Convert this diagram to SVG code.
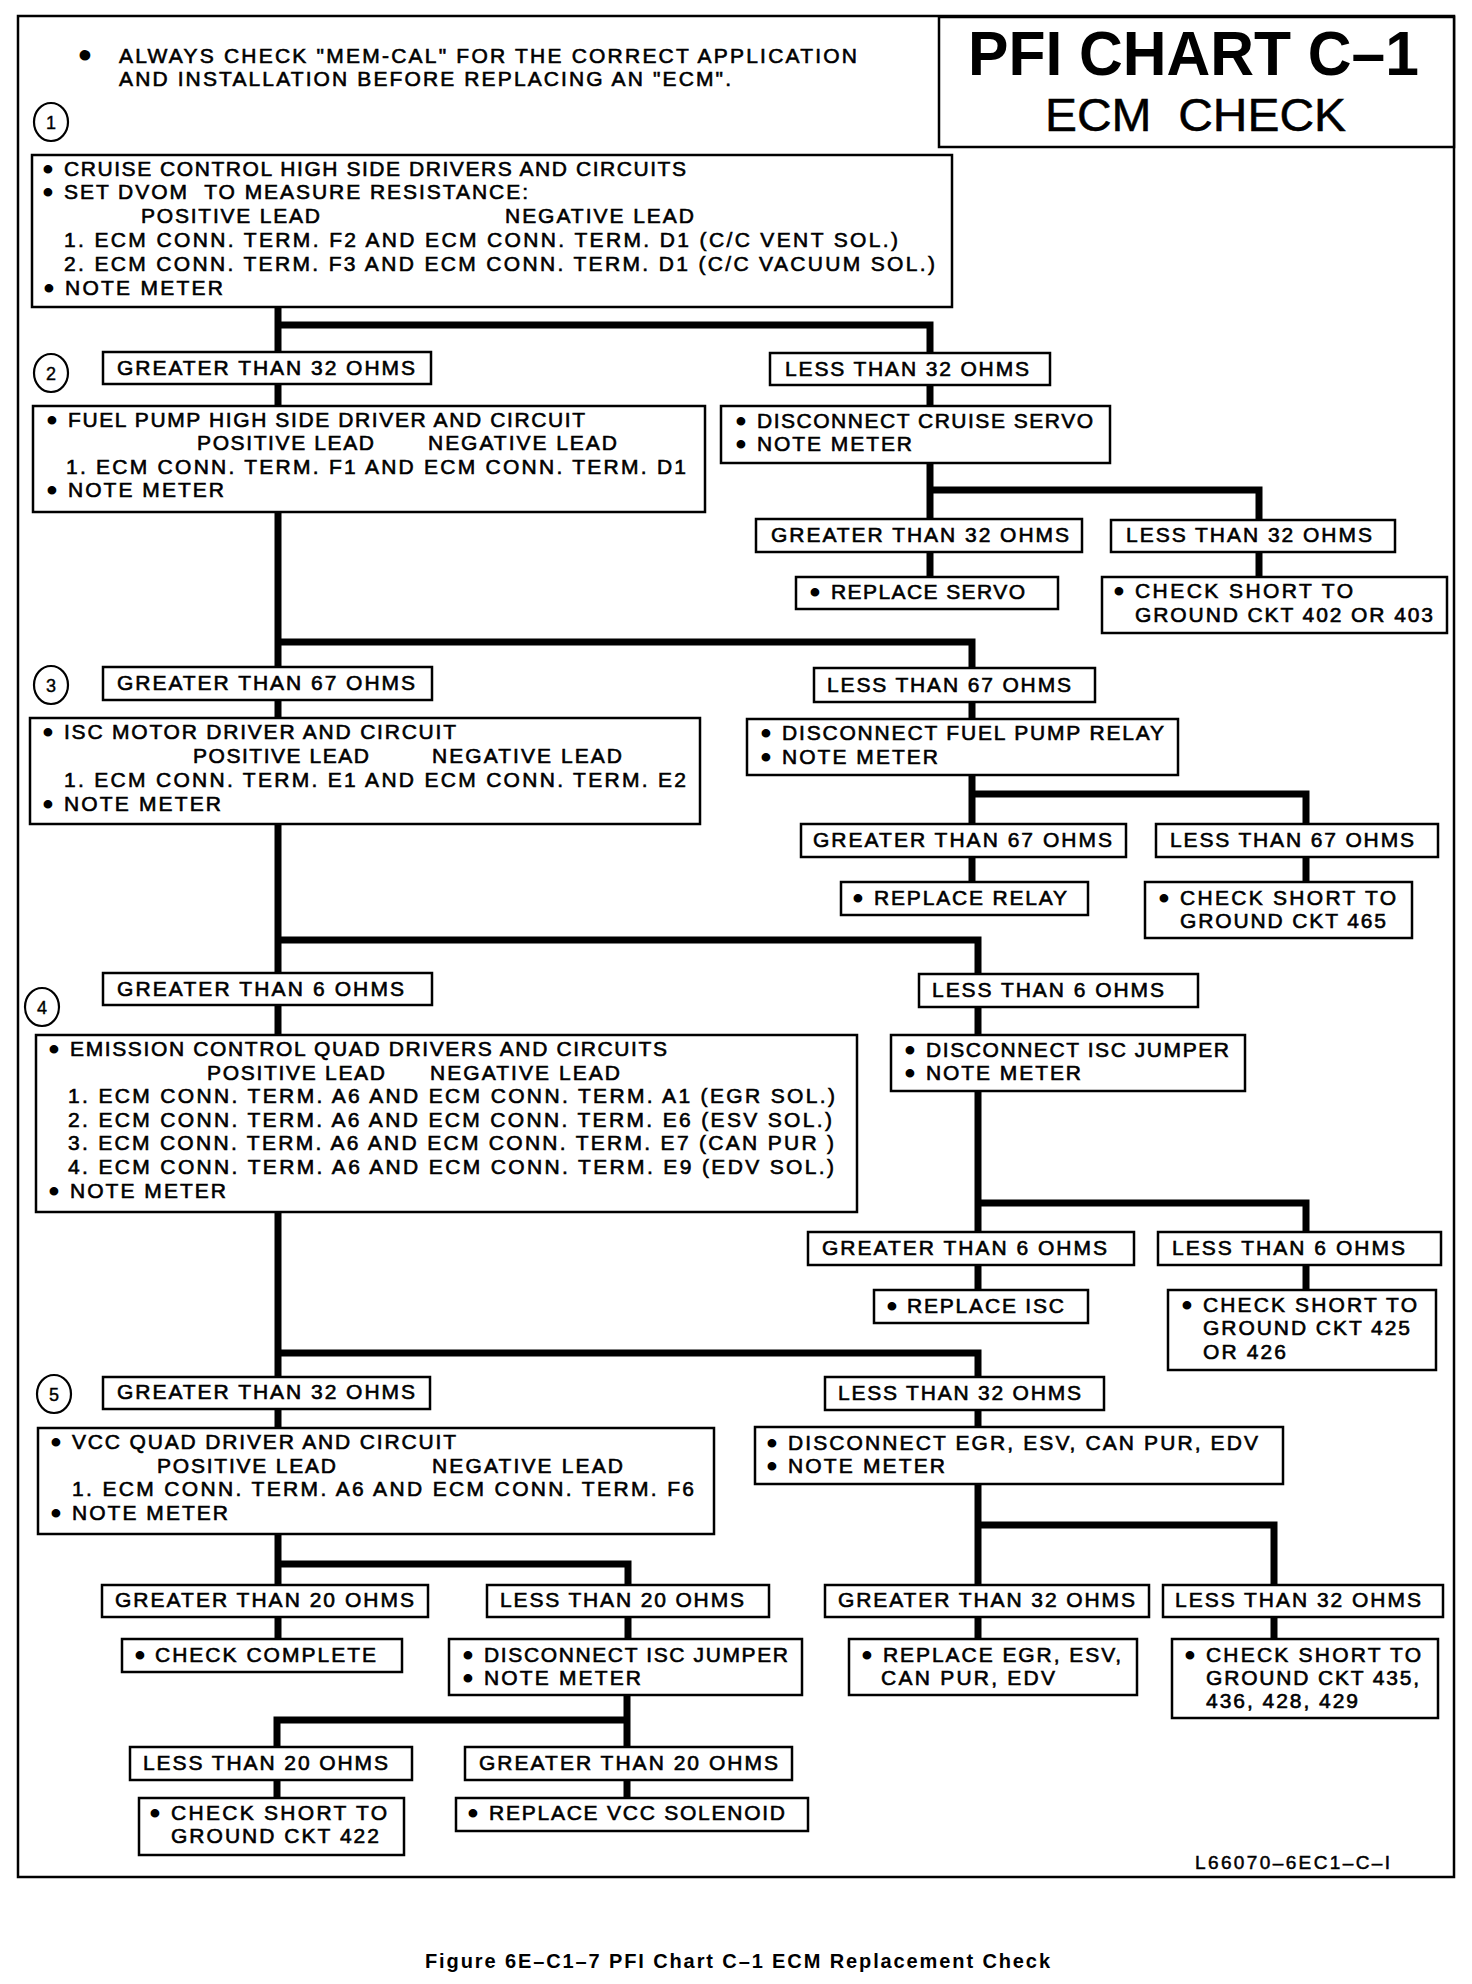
<svg xmlns="http://www.w3.org/2000/svg" width="1472" height="1984" viewBox="0 0 1472 1984">
<defs>
<style>
.box{fill:#fff;stroke:#000;stroke-width:2.5}
.t{font-family:"Liberation Sans",Arial,Helvetica,sans-serif;font-size:21px;fill:#000;stroke:#000;stroke-width:0.6}
.bul{font-family:"Liberation Sans",Arial,Helvetica,sans-serif;font-size:21px;fill:#000;stroke:#000;stroke-width:3;text-anchor:middle}
.num{font-family:"Liberation Sans",Arial,Helvetica,sans-serif;font-size:18px;fill:#000;stroke:#000;stroke-width:0.4;text-anchor:middle}
.ring{fill:#fff;stroke:#000;stroke-width:2.2}
.pre{white-space:pre}
#connectors path{stroke:#000;stroke-width:7;fill:none;stroke-linejoin:miter;stroke-linecap:butt}
</style>
</defs>
<rect x="0" y="0" width="1472" height="1984" fill="#fff"/>
<rect id="frame" x="18" y="16" width="1436" height="1861" fill="none" stroke="#000" stroke-width="2.5"/>

<g id="connectors">
<path d="M278,307 V352"/>
<path d="M278,325 H930 V353"/>
<path d="M278,384 V406"/>
<path d="M930,385 V406"/>
<path d="M930,463 V519"/>
<path d="M930,490 H1259 V520"/>
<path d="M930,552 V577"/>
<path d="M1259,552 V577"/>
<path d="M278,512 V667"/>
<path d="M278,642 H972 V668"/>
<path d="M278,700 V718"/>
<path d="M972,702 V719"/>
<path d="M972,775 V824"/>
<path d="M972,794 H1306 V824"/>
<path d="M972,857 V882"/>
<path d="M1306,857 V882"/>
<path d="M278,824 V973"/>
<path d="M278,940 H978 V974"/>
<path d="M278,1005 V1035"/>
<path d="M978,1007 V1035"/>
<path d="M978,1091 V1232"/>
<path d="M978,1203 H1306 V1232"/>
<path d="M978,1265 V1290"/>
<path d="M1306,1265 V1290"/>
<path d="M278,1212 V1377"/>
<path d="M278,1353 H978 V1377"/>
<path d="M278,1409 V1428"/>
<path d="M978,1410 V1427"/>
<path d="M978,1484 V1585"/>
<path d="M978,1525 H1274 V1585"/>
<path d="M978,1617 V1639"/>
<path d="M1274,1617 V1639"/>
<path d="M278,1534 V1585"/>
<path d="M278,1564 H628 V1585"/>
<path d="M278,1617 V1639"/>
<path d="M628,1617 V1639"/>
<path d="M627,1695 V1747"/>
<path d="M627,1720 H277 V1747"/>
<path d="M277,1780 V1798"/>
<path d="M627,1780 V1798"/>
</g>

<g id="note">
<text class="bul" x="85" y="62" style="stroke-width:5">•</text>
<text class="t" x="119" y="63" textLength="738" lengthAdjust="spacing">ALWAYS CHECK "MEM-CAL" FOR THE CORRECT APPLICATION</text>
<text class="t" x="119" y="86" textLength="612" lengthAdjust="spacing">AND INSTALLATION BEFORE REPLACING AN "ECM".</text>
</g>

<g id="title">
<rect class="box" x="939" y="17" width="515" height="130"/>
<text x="968" y="75" textLength="451" lengthAdjust="spacingAndGlyphs" style="font-family:'Liberation Sans',Arial,Helvetica,sans-serif;font-size:63px;font-weight:bold">PFI CHART C–1</text>
<text class="pre" xml:space="preserve" x="1045" y="131" textLength="301" lengthAdjust="spacingAndGlyphs" style="font-family:'Liberation Sans',Arial,Helvetica,sans-serif;font-size:47px;stroke:#000;stroke-width:0.5">ECM  CHECK</text>
</g>

<g id="step1"><ellipse class="ring" cx="51" cy="122" rx="17" ry="19"/><text class="num" x="51" y="129">1</text></g>
<g id="step2"><ellipse class="ring" cx="51" cy="373" rx="17" ry="19"/><text class="num" x="51" y="380">2</text></g>
<g id="step3"><ellipse class="ring" cx="51" cy="685" rx="17" ry="19"/><text class="num" x="51" y="692">3</text></g>
<g id="step4"><ellipse class="ring" cx="42" cy="1007" rx="17" ry="19"/><text class="num" x="42" y="1014">4</text></g>
<g id="step5"><ellipse class="ring" cx="54" cy="1394" rx="17" ry="19"/><text class="num" x="54" y="1401">5</text></g>

<g id="box1">
<rect class="box" x="32" y="155" width="920" height="152"/>
<text class="bul" x="48" y="176">•</text>
<text class="t" x="64" y="176" textLength="622">CRUISE CONTROL HIGH SIDE DRIVERS AND CIRCUITS</text>
<text class="bul" x="48" y="199">•</text>
<text class="t pre" xml:space="preserve" x="64" y="199" textLength="464">SET DVOM  TO MEASURE RESISTANCE:</text>
<text class="t" x="141" y="223" textLength="179">POSITIVE LEAD</text>
<text class="t" x="505" y="223" textLength="189">NEGATIVE LEAD</text>
<text class="t" x="64" y="247" textLength="834">1. ECM CONN. TERM. F2 AND ECM CONN. TERM. D1 (C/C VENT SOL.)</text>
<text class="t" x="64" y="271" textLength="871">2. ECM CONN. TERM. F3 AND ECM CONN. TERM. D1 (C/C VACUUM SOL.)</text>
<text class="bul" x="49" y="295">•</text>
<text class="t" x="65" y="295" textLength="158">NOTE METER</text>
</g>

<g id="gt32a">
<rect class="box" x="103" y="352" width="328" height="32"/>
<text class="t" x="117" y="375" textLength="298">GREATER THAN 32 OHMS</text>
</g>
<g id="lt32a">
<rect class="box" x="770" y="353" width="280" height="32"/>
<text class="t" x="785" y="376" textLength="244">LESS THAN 32 OHMS</text>
</g>

<g id="box2">
<rect class="box" x="33" y="406" width="672" height="106"/>
<text class="bul" x="52" y="427">•</text>
<text class="t" x="68" y="427" textLength="517">FUEL PUMP HIGH SIDE DRIVER AND CIRCUIT</text>
<text class="t" x="197" y="450" textLength="177">POSITIVE LEAD</text>
<text class="t" x="428" y="450" textLength="189">NEGATIVE LEAD</text>
<text class="t" x="66" y="474" textLength="620">1. ECM CONN. TERM. F1 AND ECM CONN. TERM. D1</text>
<text class="bul" x="52" y="497">•</text>
<text class="t" x="68" y="497" textLength="156">NOTE METER</text>
</g>

<g id="servo">
<rect class="box" x="721" y="406" width="389" height="57"/>
<text class="bul" x="741" y="428">•</text>
<text class="t" x="757" y="428" textLength="336">DISCONNECT CRUISE SERVO</text>
<text class="bul" x="741" y="451">•</text>
<text class="t" x="757" y="451" textLength="155">NOTE METER</text>
</g>

<g id="gt32b">
<rect class="box" x="756" y="519" width="326" height="33"/>
<text class="t" x="771" y="542" textLength="298">GREATER THAN 32 OHMS</text>
</g>
<g id="lt32b">
<rect class="box" x="1111" y="520" width="284" height="32"/>
<text class="t" x="1126" y="542" textLength="246">LESS THAN 32 OHMS</text>
</g>

<g id="replservo">
<rect class="box" x="796" y="577" width="262" height="32"/>
<text class="bul" x="815" y="599">•</text>
<text class="t" x="831" y="599" textLength="194">REPLACE SERVO</text>
</g>

<g id="ck402">
<rect class="box" x="1102" y="577" width="345" height="56"/>
<text class="bul" x="1119" y="598">•</text>
<text class="t" x="1135" y="598" textLength="218">CHECK SHORT TO</text>
<text class="t" x="1135" y="622" textLength="298">GROUND CKT 402 OR 403</text>
</g>

<g id="gt67a">
<rect class="box" x="103" y="667" width="329" height="33"/>
<text class="t" x="117" y="690" textLength="298">GREATER THAN 67 OHMS</text>
</g>
<g id="lt67a">
<rect class="box" x="814" y="668" width="281" height="34"/>
<text class="t" x="827" y="692" textLength="244">LESS THAN 67 OHMS</text>
</g>

<g id="box3">
<rect class="box" x="30" y="718" width="670" height="106"/>
<text class="bul" x="48" y="739">•</text>
<text class="t" x="64" y="739" textLength="392">ISC MOTOR DRIVER AND CIRCUIT</text>
<text class="t" x="193" y="763" textLength="176">POSITIVE LEAD</text>
<text class="t" x="432" y="763" textLength="190">NEGATIVE LEAD</text>
<text class="t" x="64" y="787" textLength="622">1. ECM CONN. TERM. E1 AND ECM CONN. TERM. E2</text>
<text class="bul" x="48" y="811">•</text>
<text class="t" x="64" y="811" textLength="157">NOTE METER</text>
</g>

<g id="relay">
<rect class="box" x="747" y="719" width="431" height="56"/>
<text class="bul" x="766" y="740">•</text>
<text class="t" x="782" y="740" textLength="382">DISCONNECT FUEL PUMP RELAY</text>
<text class="bul" x="766" y="764">•</text>
<text class="t" x="782" y="764" textLength="156">NOTE METER</text>
</g>

<g id="gt67b">
<rect class="box" x="801" y="824" width="325" height="33"/>
<text class="t" x="813" y="847" textLength="299">GREATER THAN 67 OHMS</text>
</g>
<g id="lt67b">
<rect class="box" x="1156" y="824" width="282" height="33"/>
<text class="t" x="1170" y="847" textLength="244">LESS THAN 67 OHMS</text>
</g>

<g id="replrelay">
<rect class="box" x="841" y="882" width="247" height="33"/>
<text class="bul" x="858" y="905">•</text>
<text class="t" x="874" y="905" textLength="193">REPLACE RELAY</text>
</g>

<g id="ck465">
<rect class="box" x="1145" y="882" width="267" height="56"/>
<text class="bul" x="1164" y="905">•</text>
<text class="t" x="1180" y="905" textLength="216">CHECK SHORT TO</text>
<text class="t" x="1180" y="928" textLength="206">GROUND CKT 465</text>
</g>

<g id="gt6a">
<rect class="box" x="103" y="973" width="329" height="32"/>
<text class="t" x="117" y="996" textLength="287">GREATER THAN 6 OHMS</text>
</g>
<g id="lt6a">
<rect class="box" x="919" y="974" width="279" height="33"/>
<text class="t" x="932" y="997" textLength="232">LESS THAN 6 OHMS</text>
</g>

<g id="box4">
<rect class="box" x="36" y="1035" width="821" height="177"/>
<text class="bul" x="54" y="1056">•</text>
<text class="t" x="70" y="1056" textLength="597">EMISSION CONTROL QUAD DRIVERS AND CIRCUITS</text>
<text class="t" x="207" y="1080" textLength="178">POSITIVE LEAD</text>
<text class="t" x="430" y="1080" textLength="190">NEGATIVE LEAD</text>
<text class="t" x="68" y="1103" textLength="767">1. ECM CONN. TERM. A6 AND ECM CONN. TERM. A1 (EGR SOL.)</text>
<text class="t" x="68" y="1127" textLength="764">2. ECM CONN. TERM. A6 AND ECM CONN. TERM. E6 (ESV SOL.)</text>
<text class="t" x="68" y="1150" textLength="766">3. ECM CONN. TERM. A6 AND ECM CONN. TERM. E7 (CAN PUR )</text>
<text class="t" x="68" y="1174" textLength="766">4. ECM CONN. TERM. A6 AND ECM CONN. TERM. E9 (EDV SOL.)</text>
<text class="bul" x="54" y="1198">•</text>
<text class="t" x="70" y="1198" textLength="156">NOTE METER</text>
</g>

<g id="iscjumper1">
<rect class="box" x="891" y="1035" width="354" height="56"/>
<text class="bul" x="910" y="1057">•</text>
<text class="t" x="926" y="1057" textLength="303">DISCONNECT ISC JUMPER</text>
<text class="bul" x="910" y="1080">•</text>
<text class="t" x="926" y="1080" textLength="155">NOTE METER</text>
</g>

<g id="gt6b">
<rect class="box" x="808" y="1232" width="326" height="33"/>
<text class="t" x="822" y="1255" textLength="285">GREATER THAN 6 OHMS</text>
</g>
<g id="lt6b">
<rect class="box" x="1158" y="1232" width="283" height="33"/>
<text class="t" x="1172" y="1255" textLength="233">LESS THAN 6 OHMS</text>
</g>

<g id="replisc">
<rect class="box" x="874" y="1290" width="214" height="33"/>
<text class="bul" x="892" y="1313">•</text>
<text class="t" x="907" y="1313" textLength="157">REPLACE ISC</text>
</g>

<g id="ck425">
<rect class="box" x="1168" y="1290" width="268" height="80"/>
<text class="bul" x="1187" y="1312">•</text>
<text class="t" x="1203" y="1312" textLength="214">CHECK SHORT TO</text>
<text class="t" x="1203" y="1335" textLength="207">GROUND CKT 425</text>
<text class="t" x="1203" y="1359" textLength="83">OR 426</text>
</g>

<g id="gt32c">
<rect class="box" x="103" y="1377" width="327" height="32"/>
<text class="t" x="117" y="1399" textLength="298">GREATER THAN 32 OHMS</text>
</g>
<g id="lt32c">
<rect class="box" x="825" y="1377" width="279" height="33"/>
<text class="t" x="838" y="1400" textLength="243">LESS THAN 32 OHMS</text>
</g>

<g id="box5">
<rect class="box" x="38" y="1428" width="676" height="106"/>
<text class="bul" x="56" y="1449">•</text>
<text class="t" x="72" y="1449" textLength="384">VCC QUAD DRIVER AND CIRCUIT</text>
<text class="t" x="157" y="1473" textLength="179">POSITIVE LEAD</text>
<text class="t" x="432" y="1473" textLength="191">NEGATIVE LEAD</text>
<text class="t" x="72" y="1496" textLength="622">1. ECM CONN. TERM. A6 AND ECM CONN. TERM. F6</text>
<text class="bul" x="56" y="1520">•</text>
<text class="t" x="72" y="1520" textLength="156">NOTE METER</text>
</g>

<g id="egr">
<rect class="box" x="755" y="1427" width="528" height="57"/>
<text class="bul" x="772" y="1450">•</text>
<text class="t" x="788" y="1450" textLength="470">DISCONNECT EGR, ESV, CAN PUR, EDV</text>
<text class="bul" x="772" y="1473">•</text>
<text class="t" x="788" y="1473" textLength="157">NOTE METER</text>
</g>

<g id="gt20a">
<rect class="box" x="102" y="1585" width="326" height="32"/>
<text class="t" x="115" y="1607" textLength="299">GREATER THAN 20 OHMS</text>
</g>
<g id="lt20a">
<rect class="box" x="487" y="1585" width="282" height="32"/>
<text class="t" x="500" y="1607" textLength="244">LESS THAN 20 OHMS</text>
</g>
<g id="gt32d">
<rect class="box" x="825" y="1585" width="324" height="32"/>
<text class="t" x="838" y="1607" textLength="297">GREATER THAN 32 OHMS</text>
</g>
<g id="lt32d">
<rect class="box" x="1163" y="1585" width="280" height="32"/>
<text class="t" x="1175" y="1607" textLength="246">LESS THAN 32 OHMS</text>
</g>

<g id="complete">
<rect class="box" x="122" y="1639" width="280" height="33"/>
<text class="bul" x="140" y="1662">•</text>
<text class="t" x="155" y="1662" textLength="221">CHECK COMPLETE</text>
</g>

<g id="iscjumper2">
<rect class="box" x="449" y="1639" width="353" height="56"/>
<text class="bul" x="468" y="1662">•</text>
<text class="t" x="484" y="1662" textLength="304">DISCONNECT ISC JUMPER</text>
<text class="bul" x="468" y="1685">•</text>
<text class="t" x="484" y="1685" textLength="157">NOTE METER</text>
</g>

<g id="replegr">
<rect class="box" x="849" y="1639" width="288" height="56"/>
<text class="bul" x="867" y="1662">•</text>
<text class="t" x="883" y="1662" textLength="238">REPLACE EGR, ESV,</text>
<text class="t" x="881" y="1685" textLength="174">CAN PUR, EDV</text>
</g>

<g id="ck435">
<rect class="box" x="1172" y="1639" width="266" height="79"/>
<text class="bul" x="1190" y="1662">•</text>
<text class="t" x="1206" y="1662" textLength="215">CHECK SHORT TO</text>
<text class="t" x="1206" y="1685" textLength="213">GROUND CKT 435,</text>
<text class="t" x="1206" y="1708" textLength="152">436, 428, 429</text>
</g>

<g id="lt20b">
<rect class="box" x="130" y="1747" width="282" height="33"/>
<text class="t" x="143" y="1770" textLength="245">LESS THAN 20 OHMS</text>
</g>
<g id="gt20b">
<rect class="box" x="465" y="1747" width="327" height="33"/>
<text class="t" x="479" y="1770" textLength="299">GREATER THAN 20 OHMS</text>
</g>

<g id="ck422">
<rect class="box" x="139" y="1798" width="265" height="57"/>
<text class="bul" x="155" y="1820">•</text>
<text class="t" x="171" y="1820" textLength="216">CHECK SHORT TO</text>
<text class="t" x="171" y="1843" textLength="208">GROUND CKT 422</text>
</g>

<g id="replvcc">
<rect class="box" x="456" y="1798" width="352" height="33"/>
<text class="bul" x="473" y="1820">•</text>
<text class="t" x="489" y="1820" textLength="296">REPLACE VCC SOLENOID</text>
</g>

<text id="code" x="1195" y="1869" textLength="195" style="font-family:'Liberation Sans',Arial,Helvetica,sans-serif;font-size:19px;stroke:#000;stroke-width:0.5">L66070–6EC1–C–I</text>
<text id="caption" x="425" y="1968" textLength="625" style="font-family:'Liberation Sans',Arial,Helvetica,sans-serif;font-size:20px;font-weight:bold">Figure 6E–C1–7 PFI Chart C–1 ECM Replacement Check</text>
</svg>
